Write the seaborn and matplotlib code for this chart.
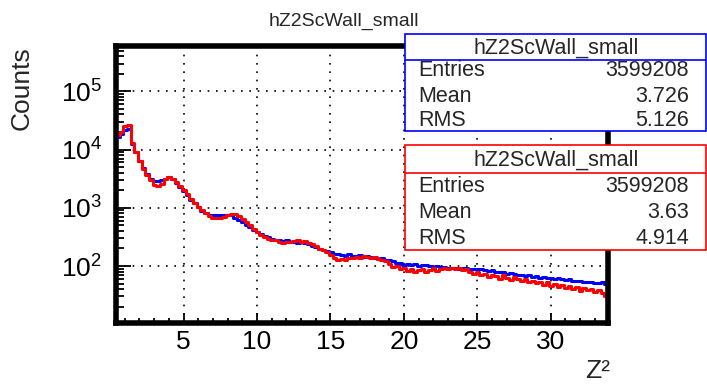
import numpy as np
import pandas as pd
import seaborn as sns
import matplotlib.pyplot as plt
from matplotlib.patches import Rectangle
from matplotlib.lines import Line2D
from matplotlib.ticker import MultipleLocator, LogLocator

hist_title = 'hZ2ScWall_small'
z2_range = (0.4, 33.9)
bin_width = 0.25

# log10(counts) per bin
blue_log10 = [
    4.22, 4.26, 4.33, 4.35, 4.10, 3.95, 3.80, 3.68, 3.58, 3.50,
    3.46, 3.46, 3.47, 3.50, 3.52, 3.49, 3.43, 3.36, 3.29, 3.22,
    3.14, 3.08, 3.01, 2.95, 2.91, 2.88, 2.87, 2.87, 2.87, 2.87,
    2.88, 2.87, 2.83, 2.79, 2.75, 2.71, 2.67, 2.62, 2.58, 2.55,
    2.51, 2.49, 2.46, 2.45, 2.44, 2.43, 2.44, 2.42, 2.41, 2.40,
    2.41, 2.39, 2.37, 2.35, 2.33, 2.30, 2.27, 2.26, 2.24, 2.21,
    2.20, 2.19, 2.18, 2.20, 2.17, 2.18, 2.19, 2.16, 2.17, 2.15,
    2.14, 2.12, 2.13, 2.11, 2.10, 2.08, 2.06, 2.05, 2.02, 2.04,
    2.01, 2.03, 2.00, 2.02, 2.01, 2.00, 1.98, 2.00, 1.99, 1.98,
    1.97, 1.96, 1.97, 1.95, 1.96, 1.96, 1.95, 1.95, 1.94, 1.94,
    1.93, 1.92, 1.93, 1.90, 1.89, 1.90, 1.87, 1.88, 1.86, 1.85,
    1.84, 1.83, 1.84, 1.81, 1.82, 1.80, 1.81, 1.79, 1.80, 1.78,
    1.79, 1.77, 1.76, 1.77, 1.75, 1.74, 1.75, 1.73, 1.72, 1.73,
    1.71, 1.70, 1.72, 1.69,
]
red_log10 = [
    4.25, 4.30, 4.40, 4.43, 4.12, 3.96, 3.80, 3.67, 3.56, 3.47,
    3.39, 3.37, 3.41, 3.49, 3.53, 3.50, 3.44, 3.37, 3.30, 3.23,
    3.15, 3.09, 3.02, 2.96, 2.91, 2.86, 2.83, 2.82, 2.83, 2.85,
    2.87, 2.90, 2.89, 2.86, 2.81, 2.76, 2.70, 2.63, 2.58, 2.54,
    2.50, 2.47, 2.45, 2.44, 2.42, 2.40, 2.41, 2.42, 2.43, 2.44,
    2.42, 2.43, 2.40, 2.37, 2.34, 2.30, 2.27, 2.24, 2.19, 2.14,
    2.10, 2.12, 2.11, 2.13, 2.14, 2.16, 2.14, 2.17, 2.15, 2.13,
    2.15, 2.12, 2.10, 2.08, 2.03, 1.98, 2.00, 1.94, 1.97, 1.92,
    1.95, 1.90, 1.93, 1.95, 1.89, 1.93, 1.96, 1.91, 1.94, 1.97,
    1.95, 1.97, 1.94, 1.96, 1.93, 1.95, 1.90, 1.86, 1.89, 1.84,
    1.87, 1.81, 1.85, 1.82, 1.78, 1.84, 1.80, 1.76, 1.81, 1.77,
    1.74, 1.78, 1.72, 1.75, 1.70, 1.73, 1.68, 1.72, 1.66, 1.69,
    1.64, 1.67, 1.62, 1.66, 1.60, 1.64, 1.57, 1.62, 1.59, 1.61,
    1.55, 1.58, 1.53, 1.48,
]

blue_stats = [('Entries', '3599208'), ('Mean', '3.726'), ('RMS', '5.126')]
red_stats = [('Entries', '3599208'), ('Mean', '3.63'), ('RMS', '4.914')]

W, H = 707, 384


def fx(px):
    return px / W


def fy(py):
    return 1 - py / H


def stats_box(fig, top, header_bottom, bottom, rows_y, color, stats):
    fig.add_artist(Rectangle((fx(405), fy(bottom)), fx(706) - fx(405), fy(top) - fy(bottom),
                             transform=fig.transFigure, facecolor='white',
                             edgecolor=color, lw=1.2, zorder=5))
    fig.add_artist(Line2D([fx(405), fx(706)], [fy(header_bottom)] * 2,
                          transform=fig.transFigure, color=color, lw=1.2, zorder=6))
    fig.text(fx(556), fy((top + header_bottom) / 2 + 1), hist_title, ha='center', va='center',
             fontsize=15.5, zorder=7)
    for (label, value), y in zip(stats, rows_y):
        fig.text(fx(418), fy(y + 1), label, ha='left', va='center', fontsize=15.5, zorder=7)
        fig.text(fx(689), fy(y + 1), value, ha='right', va='center', fontsize=15.5, zorder=7)


sns.set_theme(style='white')
plt.rcParams['font.family'] = ['Liberation Sans', 'DejaVu Sans']
plt.rcParams['mathtext.fontset'] = 'custom'
plt.rcParams['mathtext.rm'] = 'Liberation Sans'
plt.rcParams['mathtext.it'] = 'Liberation Sans'

centers = z2_range[0] + bin_width * (np.arange(len(red_log10)) + 0.5)
df = pd.DataFrame({
    'z2': centers,
    'blue': 10 ** np.array(blue_log10),
    'red': 10 ** np.array(red_log10),
})

fig = plt.figure(figsize=(W / 100, H / 100), dpi=100)
ax = fig.add_axes([fx(116), fy(323), fx(608) - fx(116), fy(46) - fy(323)])

sns.histplot(data=df, x='z2', weights='blue', binwidth=bin_width, binrange=z2_range,
             element='step', fill=False, color='#0000ff', linewidth=2.2, ax=ax)
sns.histplot(data=df, x='z2', weights='red', binwidth=bin_width, binrange=z2_range,
             element='step', fill=False, color='#ff0000', linewidth=2.2, ax=ax)
ax.set_yscale('log')
# ROOT closes the outline down to the axis at the first bin
ax.vlines(z2_range[0], 1, df['red'].iloc[0], color='#ff0000', lw=2.2)

ax.set_xlim(*z2_range)
ax.set_ylim(10.5, 6e5)

ax.xaxis.set_major_locator(MultipleLocator(5))
ax.xaxis.set_minor_locator(MultipleLocator(1))
ax.yaxis.set_major_locator(LogLocator(base=10))
ax.yaxis.set_minor_locator(LogLocator(base=10, subs=np.arange(2, 10)))

ax.grid(True, which='major', color='black', linestyle=(0, (1, 4)), linewidth=1.2)
for s in ax.spines.values():
    s.set_linewidth(4)
    s.set_color('black')

ax.tick_params(axis='both', which='both', direction='in', colors='black', width=1.3,
               labelsize=19, bottom=True, left=True, top=False, right=False)
ax.tick_params(axis='x', which='major', length=7, pad=5)
ax.tick_params(axis='x', which='minor', length=3.5)
ax.tick_params(axis='y', which='major', length=11, pad=10)
ax.tick_params(axis='y', which='minor', length=5.5)

ax.set_xlabel('Z²', loc='right', fontsize=19)
ax.xaxis.set_label_coords(1.005, -0.215)
ax.xaxis.label.set_va('bottom')
ax.set_ylabel('Counts', loc='top', fontsize=19)
ax.yaxis.set_label_coords(-0.167, 1.0)

fig.text(fx(344), fy(21), hist_title, ha='center', va='center', fontsize=14)

stats_box(fig, 34, 60, 131, [70, 95, 119], '#0000ff', blue_stats)
stats_box(fig, 145, 173, 250, [185, 212, 237], '#ff0000', red_stats)

fig.savefig('out.png', dpi=100, facecolor='white')
